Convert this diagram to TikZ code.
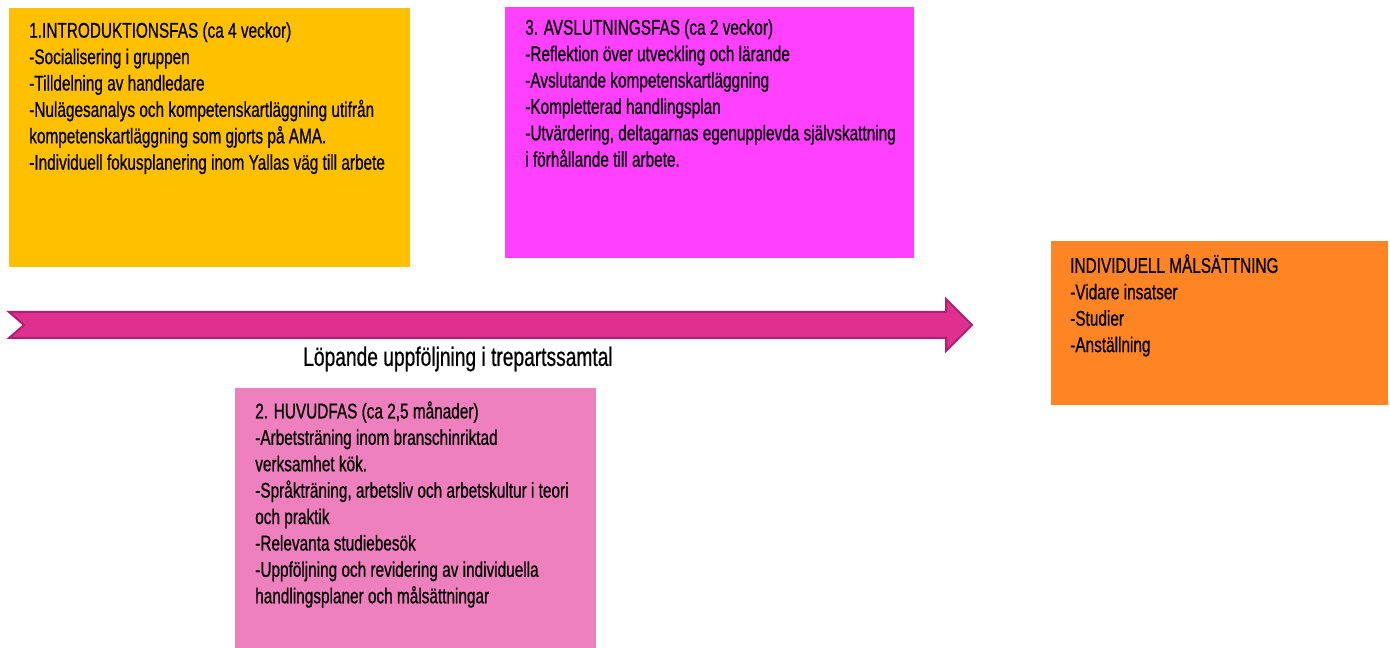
\documentclass[tikz,border=0pt]{standalone}
\usepackage{fontspec}
\setmainfont{Liberation Sans}[FakeStretch=0.72,FakeBold=0.6]
\usetikzlibrary{positioning}
\definecolor{introcol}{HTML}{FFC000}
\definecolor{slutcol}{HTML}{FF40FF}
\definecolor{huvudcol}{HTML}{EF80BE}
\definecolor{malcol}{HTML}{FF8424}
\definecolor{pilfill}{HTML}{E0308F}
\definecolor{pildraw}{HTML}{B02070}
\tikzset{
  fas/.style={rectangle,draw=none,anchor=north west,inner sep=0pt},
  fastext/.style={anchor=north west,align=left,inner sep=0pt,
    font=\fontsize{16}{19.8}\selectfont},
}

\begin{document}
\begin{tikzpicture}[x=0.75pt,y=-0.75pt]
\useasboundingbox (0,0) rectangle (1390,648);

% boxes
\node[fas,fill=introcol,minimum width=401*0.75pt,minimum height=259*0.75pt] (intro) at (9,8) {};
\node[fas,fill=slutcol,minimum width=409*0.75pt,minimum height=251*0.75pt] (slut) at (505,7) {};
\node[fas,fill=huvudcol,minimum width=361*0.75pt,minimum height=260*0.75pt] (huvud) at (235,388) {};
\node[fas,fill=malcol,minimum width=337*0.75pt,minimum height=164*0.75pt] (mal) at (1051,241) {};

% texts
\node[fastext] (introtxt) at ([shift={(20,14)}]intro.north west) {1.INTRODUKTIONSFAS (ca 4 veckor)\\
-Socialisering i gruppen\\
-Tilldelning av handledare\\
-Nulägesanalys och kompetenskartläggning utifrån\\
kompetenskartläggning som gjorts på AMA.\\
-Individuell fokusplanering inom Yallas väg till arbete};
\node[fastext] (sluttxt) at ([shift={(20,12)}]slut.north west) {3. AVSLUTNINGSFAS (ca 2 veckor)\\
-Reflektion över utveckling och lärande\\
-Avslutande kompetenskartläggning\\
-Kompletterad handlingsplan\\
-Utvärdering, deltagarnas egenupplevda självskattning\\
i förhållande till arbete.};
\node[fastext] (huvudtxt) at ([shift={(20,13)}]huvud.north west) {2. HUVUDFAS (ca 2,5 månader)\\
-Arbetsträning inom branschinriktad\\
verksamhet kök.\\
-Språkträning, arbetsliv och arbetskultur i teori\\
och praktik\\
-Relevanta studiebesök\\
-Uppföljning och revidering av individuella\\
handlingsplaner och målsättningar};
\node[fastext] (maltxt) at ([shift={(19,13)}]mal.north west) {INDIVIDUELL MÅLSÄTTNING\\
-Vidare insatser\\
-Studier\\
-Anställning};

% arrow
\draw[fill=pilfill,draw=pildraw,line width=1.5pt,line join=miter]
  (9,312) -- (946,312) -- (946,299) -- (972,325) -- (946,351) -- (946,338)
  -- (9,338) -- (24,325) -- cycle;
\node[font=\fontsize{20}{24}\selectfont,inner sep=0pt] (uppf) at (458,359) {Löpande uppföljning i trepartssamtal};
\end{tikzpicture}
\end{document}
